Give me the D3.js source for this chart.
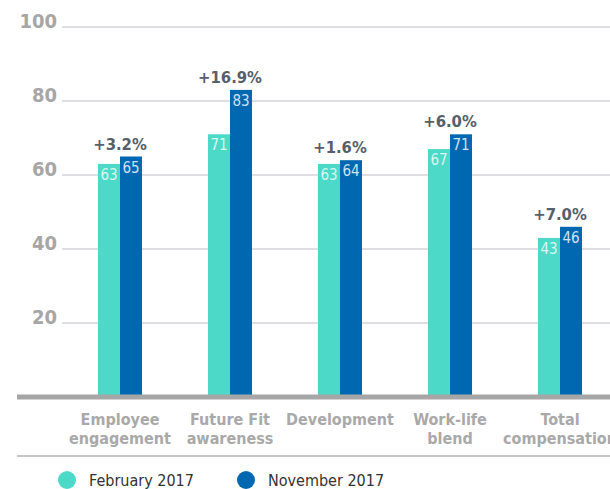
<!DOCTYPE html>
<html>
<head>
<meta charset="utf-8">
<script src="https://cdn.jsdelivr.net/npm/d3@7"></script>
<style>
    body { margin: 0; background: #fff; }
    svg { display: block; font-family: "DejaVu Sans Condensed", "DejaVu Sans", sans-serif; }
</style>
</head>
<body>
<svg id="chart" width="610" height="489"></svg>
<script>
// Donnees
const categories = [
    ["Employee", "engagement"],
    ["Future Fit", "awareness"],
    ["Development"],
    ["Work-life", "blend"],
    ["Total", "compensation"]
];
const febValues = [63, 71, 63, 67, 43];
const novValues = [65, 83, 64, 71, 46];
const changeLabels = ["+3.2%", "+16.9%", "+1.6%", "+6.0%", "+7.0%"];
const yTicks = [20, 40, 60, 80, 100];
const seriesNames = ["February 2017", "November 2017"];

const colors = { feb: "#4dd9c8", nov: "#0068b0" };

const svg = d3.select("#chart");
const baseY = 397;

const xScale = d3.scaleBand()
    .domain(d3.range(categories.length))
    .range([65, 615])
    .paddingInner(0)
    .paddingOuter(0);

const yScale = d3.scaleLinear().domain([0, 100]).range([baseY, 27]);
const barWidth = 22;

// Grille
svg.selectAll(".grid")
    .data(yTicks)
    .enter()
    .append("line")
    .attr("x1", 62)
    .attr("x2", 610)
    .attr("y1", function(d) { return yScale(d); })
    .attr("y2", function(d) { return yScale(d); })
    .attr("stroke", "#d3d5d8")
    .attr("stroke-width", 1.5);

svg.selectAll(".tick-label")
    .data(yTicks)
    .enter()
    .append("text")
    .attr("x", 57)
    .attr("y", function(d) { return yScale(d) + 1; })
    .attr("text-anchor", "end")
    .attr("font-size", 20)
    .attr("font-weight", "bold")
    .attr("fill", "#a6a6a6")
    .text(function(d) { return d; });

// Barres
const groups = svg.selectAll(".group")
    .data(categories)
    .enter()
    .append("g")
    .attr("transform", function(d, i) {
        return "translate(" + (xScale(i) + xScale.bandwidth() / 2) + ",0)";
    });

groups.append("rect")
    .attr("x", -barWidth)
    .attr("y", function(d, i) { return yScale(febValues[i]); })
    .attr("width", barWidth)
    .attr("height", function(d, i) { return baseY - yScale(febValues[i]); })
    .attr("fill", colors.feb);

groups.append("rect")
    .attr("x", 0)
    .attr("y", function(d, i) { return yScale(novValues[i]); })
    .attr("width", barWidth)
    .attr("height", function(d, i) { return baseY - yScale(novValues[i]); })
    .attr("fill", colors.nov);

groups.append("text")
    .attr("x", -barWidth / 2)
    .attr("y", function(d, i) { return yScale(febValues[i]) + 16; })
    .attr("text-anchor", "middle")
    .attr("font-size", 15)
    .attr("font-weight", 300)
    .attr("fill", "#d9f7f3")
    .text(function(d, i) { return febValues[i]; });

groups.append("text")
    .attr("x", barWidth / 2)
    .attr("y", function(d, i) { return yScale(novValues[i]) + 16; })
    .attr("text-anchor", "middle")
    .attr("font-size", 15)
    .attr("font-weight", 300)
    .attr("fill", "#cfe2f3")
    .text(function(d, i) { return novValues[i]; });

groups.append("text")
    .attr("x", 0)
    .attr("y", function(d, i) { return yScale(Math.max(febValues[i], novValues[i])) - 7; })
    .attr("text-anchor", "middle")
    .attr("font-size", 16.5)
    .attr("font-weight", "bold")
    .attr("fill", "#56606a")
    .text(function(d, i) { return changeLabels[i]; });

// Libelles des categories
groups.each(function(lines) {
    const label = d3.select(this).append("text")
        .attr("text-anchor", "middle")
        .attr("font-size", 16)
        .attr("font-weight", "bold")
        .attr("fill", "#a9a9a9");
    lines.forEach(function(line, k) {
        label.append("tspan")
            .attr("x", 0)
            .attr("y", 425 + k * 19)
            .text(line);
    });
});

// Axe de base
svg.append("line")
    .attr("x1", 17)
    .attr("x2", 610)
    .attr("y1", baseY)
    .attr("y2", baseY)
    .attr("stroke", "#a6a6a6")
    .attr("stroke-width", 5);

svg.append("line")
    .attr("x1", 17)
    .attr("x2", 610)
    .attr("y1", 456)
    .attr("y2", 456)
    .attr("stroke", "#b5b5b5")
    .attr("stroke-width", 1.5);

// Legende
const legendX = [67, 246];
const legend = svg.selectAll(".legend")
    .data(seriesNames)
    .enter()
    .append("g")
    .attr("transform", function(d, i) { return "translate(" + legendX[i] + ",480)"; });

legend.append("circle")
    .attr("r", 9)
    .attr("fill", function(d, i) { return i === 0 ? colors.feb : colors.nov; });

legend.append("text")
    .attr("x", 22)
    .attr("y", 6)
    .attr("font-size", 16)
    .attr("fill", "#333")
    .text(function(d) { return d; });
</script>
</body>
</html>
